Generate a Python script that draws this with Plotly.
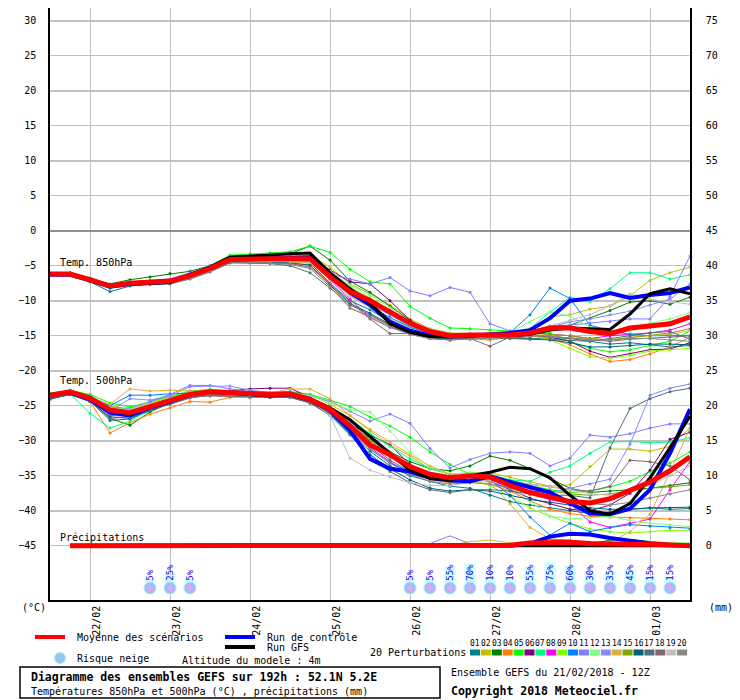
import plotly.graph_objects as go
import pandas as pd

# GEFS run 21/02/2018 12Z, one value every 6h over 192h
times = pd.date_range("2018-02-21 12:00", periods=33, freq="6h")

# ---- 850 hPa (degC)
mean_850 = [-6.2, -6.2, -7.0, -7.9, -7.5, -7.4, -7.2, -6.4, -5.4, -4.1, -4.0, -4.0, -4.0, -4.0, -6.6, -8.7, -10.0,
            -11.6, -13.2, -14.4, -15.0, -14.9, -14.9, -14.9, -14.6, -13.9, -13.9, -14.4, -14.7, -13.9, -13.6, -13.3, -12.3]
ctrl_850 = [-6.3, -6.3, -7.1, -8.0, -7.6, -7.5, -7.3, -6.3, -5.3, -4.0, -4.0, -3.9, -3.9, -3.8, -6.4, -8.8, -10.6,
            -13.0, -14.3, -15.0, -15.1, -15.0, -14.8, -14.6, -14.2, -12.5, -10.0, -9.7, -8.9, -9.6, -9.2, -8.9, -8.1]
gfs_850 = [-6.2, -6.1, -7.0, -7.8, -7.6, -7.5, -7.4, -6.3, -5.2, -3.8, -3.6, -3.4, -3.3, -3.2, -6.0, -8.3, -10.3,
           -13.3, -14.5, -15.1, -15.2, -15.0, -14.9, -15.0, -14.8, -14.2, -13.9, -14.0, -14.1, -11.9, -9.0, -8.3, -9.0]

p01_850 = [-6.0, -6.2, -7.3, -8.7, -7.9, -7.6, -7.4, -6.6, -5.6, -4.3, -4.2, -4.3, -4.4, -4.6, -7.5, -10.0, -11.3,
           -13.0, -14.1, -15.2, -15.5, -15.3, -15.0, -15.2, -15.3, -15.5, -15.4, -15.8, -16.2, -16.0, -16.3, -16.6, -16.4]
p02_850 = [-6.2, -6.1, -6.9, -7.8, -7.4, -7.2, -7.0, -6.2, -5.2, -3.8, -3.7, -3.6, -3.5, -3.5, -5.2, -7.6, -9.0,
           -10.6, -12.6, -14.0, -14.6, -14.7, -14.8, -14.7, -14.3, -12.3, -12.0, -11.2, -10.8, -9.3, -7.1, -6.0, -5.2]
p03_850 = [-6.1, -6.0, -6.8, -7.6, -7.0, -6.6, -6.1, -5.8, -5.0, -3.6, -3.5, -3.4, -3.3, -2.2, -4.2, -7.2, -8.8,
           -10.8, -12.8, -14.4, -14.8, -14.9, -14.8, -14.6, -14.4, -13.6, -13.5, -12.5, -11.4, -10.2, -10.0, -10.5, -9.5]
p04_850 = [-6.2, -6.3, -7.1, -8.0, -7.7, -7.6, -7.5, -6.8, -5.7, -4.5, -4.4, -4.6, -4.8, -4.9, -7.6, -11.1, -12.2,
           -13.5, -14.4, -15.0, -15.3, -15.5, -15.6, -15.2, -15.0, -15.4, -16.3, -17.6, -18.7, -18.4, -17.6, -16.6, -15.2]
p05_850 = [-6.1, -6.0, -6.8, -7.7, -7.3, -7.2, -7.1, -6.2, -5.0, -3.5, -3.3, -3.2, -3.0, -2.2, -3.1, -5.5, -7.3,
           -7.6, -10.8, -12.5, -13.9, -14.0, -14.2, -14.4, -14.5, -14.6, -15.8, -16.8, -17.3, -17.0, -16.4, -15.8, -14.3]
p06_850 = [-6.3, -6.2, -7.0, -7.9, -7.5, -7.3, -7.2, -6.4, -5.3, -4.0, -3.9, -3.8, -3.6, -3.6, -5.6, -7.3, -7.6,
           -10.0, -12.8, -14.6, -15.1, -15.0, -15.2, -15.0, -15.0, -15.2, -15.8, -17.2, -18.1, -17.6, -17.0, -16.9, -16.0]
p07_850 = [-6.2, -6.2, -7.0, -7.8, -7.4, -7.2, -7.1, -6.3, -5.3, -3.9, -3.9, -3.8, -3.7, -3.8, -6.0, -8.5, -10.2,
           -12.0, -13.8, -14.6, -14.8, -14.7, -14.8, -14.9, -14.0, -11.6, -9.5, -10.1, -8.3, -6.0, -6.0, -6.9, -6.3]
p08_850 = [-6.3, -6.3, -7.1, -8.0, -7.6, -7.5, -7.3, -6.6, -5.6, -4.3, -4.2, -4.2, -4.3, -4.4, -7.0, -9.8, -12.4,
           -13.8, -14.6, -15.0, -15.2, -14.9, -14.8, -14.6, -14.5, -14.8, -15.0, -15.4, -15.0, -14.8, -14.6, -14.2, -13.3]
p09_850 = [-6.1, -6.1, -6.9, -7.8, -7.4, -7.3, -7.1, -6.3, -5.3, -3.9, -3.8, -3.7, -3.6, -3.6, -5.8, -8.0, -9.8,
           -11.6, -13.4, -14.6, -15.0, -15.0, -15.1, -15.0, -14.9, -15.6, -16.8, -18.0, -18.2, -17.8, -17.2, -17.0, -16.8]
p10_850 = [-6.2, -6.2, -7.0, -7.9, -7.5, -7.4, -7.2, -6.4, -5.4, -4.1, -4.0, -4.0, -4.0, -4.1, -6.8, -9.2, -10.8,
           -12.4, -13.8, -14.7, -15.0, -14.9, -15.0, -14.6, -12.0, -8.2, -9.7, -13.5, -14.3, -14.8, -15.0, -15.0, -15.0]
p11_850 = [-6.2, -6.1, -6.9, -7.7, -7.3, -7.1, -6.9, -6.0, -5.0, -3.8, -3.8, -3.8, -3.8, -3.9, -6.2, -6.9, -7.6,
           -6.7, -8.6, -9.3, -8.1, -8.8, -13.3, -14.3, -14.3, -13.8, -13.5, -13.2, -13.0, -12.6, -12.6, -9.4, -3.6]
p12_850 = [-6.2, -6.2, -7.0, -7.8, -7.5, -7.3, -7.1, -6.3, -5.3, -4.0, -3.9, -3.9, -3.8, -3.9, -5.8, -7.8, -9.2,
           -11.0, -13.2, -14.4, -14.8, -14.7, -14.7, -14.6, -13.0, -11.6, -12.2, -13.8, -14.2, -14.4, -13.2, -12.6, -11.7]
p13_850 = [-6.2, -6.2, -7.0, -7.8, -7.5, -7.3, -7.1, -6.4, -5.4, -4.1, -4.0, -4.0, -4.1, -4.2, -6.8, -9.0, -10.5,
           -12.0, -13.6, -14.6, -14.9, -14.8, -14.9, -14.7, -14.4, -13.8, -13.0, -12.6, -12.0, -11.5, -10.6, -9.8, -7.6]
p14_850 = [-6.3, -6.3, -7.1, -8.0, -7.6, -7.4, -7.2, -6.6, -5.6, -4.3, -4.3, -4.4, -4.5, -4.6, -6.9, -9.3, -10.9,
           -12.6, -14.0, -14.9, -15.2, -15.1, -15.2, -15.2, -15.0, -15.2, -15.3, -15.4, -15.6, -15.2, -15.0, -14.8, -14.3]
p15_850 = [-6.2, -6.1, -7.0, -7.9, -7.5, -7.3, -7.1, -6.3, -5.2, -3.9, -3.8, -3.7, -3.7, -3.7, -6.0, -8.2, -9.6,
           -11.4, -13.2, -14.5, -14.9, -14.8, -14.7, -14.8, -14.7, -14.8, -15.0, -15.4, -15.6, -15.3, -15.0, -14.6, -14.0]
p16_850 = [-6.3, -6.3, -7.2, -8.2, -7.7, -7.6, -7.4, -6.7, -5.7, -4.4, -4.4, -4.5, -4.6, -4.9, -7.8, -10.4, -11.8,
           -13.4, -14.6, -15.4, -15.6, -15.4, -15.3, -15.4, -15.5, -15.6, -16.0, -16.6, -16.6, -16.4, -16.2, -16.2, -16.3]
p17_850 = [-6.4, -6.4, -7.3, -8.1, -7.8, -7.7, -7.6, -6.9, -5.9, -4.6, -4.6, -4.7, -5.0, -6.0, -8.2, -10.6, -12.0,
           -13.6, -14.8, -15.4, -15.6, -15.2, -15.2, -15.3, -15.4, -15.5, -15.7, -15.8, -15.4, -15.0, -14.6, -14.4, -15.5]
p18_850 = [-6.3, -6.3, -7.2, -8.1, -7.7, -7.6, -7.4, -6.8, -5.8, -4.5, -4.5, -4.6, -4.7, -5.2, -7.6, -10.2, -12.6,
           -14.7, -14.7, -14.8, -15.2, -15.4, -16.5, -15.2, -15.0, -15.1, -15.3, -15.6, -15.8, -15.5, -15.4, -15.2, -15.0]
p19_850 = [-6.2, -6.2, -7.1, -7.9, -7.5, -7.4, -7.3, -6.6, -5.6, -4.3, -4.3, -4.4, -4.4, -4.5, -7.0, -9.4, -11.0,
           -12.8, -14.2, -15.0, -15.2, -15.0, -15.0, -14.8, -14.6, -13.6, -12.8, -12.0, -10.7, -9.0, -9.8, -10.2, -10.5]
p20_850 = [-6.3, -6.3, -7.2, -8.0, -7.7, -7.6, -7.4, -6.8, -5.8, -4.4, -4.5, -4.6, -4.8, -5.4, -8.0, -11.0, -12.4,
           -13.8, -14.8, -15.4, -15.6, -15.5, -15.4, -15.2, -15.0, -15.0, -15.4, -15.6, -15.6, -15.4, -15.4, -15.6, -15.8]

# ---- 500 hPa (degC)
mean_500 = [-23.5, -23.0, -23.9, -25.6, -26.0, -25.1, -24.3, -23.4, -23.0, -23.1, -23.3, -23.4, -23.3, -24.1, -25.5,
            -27.9, -30.6, -32.0, -33.7, -34.8, -35.3, -35.0, -35.2, -36.4, -37.4, -38.0, -38.7, -38.9, -38.3, -37.1,
            -35.9, -34.3, -32.3]
ctrl_500 = [-23.6, -23.1, -24.1, -26.0, -26.4, -25.3, -24.4, -23.4, -23.0, -23.1, -23.3, -23.5, -23.4, -24.2, -25.7,
            -28.5, -32.6, -34.0, -34.4, -35.3, -35.7, -35.8, -35.1, -35.9, -36.6, -37.4, -38.9, -40.4, -40.5, -39.7,
            -37.0, -31.8, -25.5]
gfs_500 = [-23.4, -23.0, -23.8, -25.6, -26.2, -25.2, -24.4, -23.3, -23.0, -23.2, -23.5, -23.6, -23.4, -24.0, -25.3,
           -27.0, -29.4, -31.8, -34.2, -35.4, -35.6, -35.0, -34.5, -33.8, -34.0, -35.3, -37.8, -40.0, -40.5, -39.0,
           -35.3, -31.0, -26.5]

p01_500 = [-24.1, -23.4, -24.3, -27.1, -26.9, -25.7, -24.6, -23.6, -23.2, -23.6, -23.8, -23.8, -23.7, -24.4, -25.9,
           -28.8, -31.5, -33.6, -35.0, -35.8, -36.5, -36.8, -37.8, -38.7, -39.2, -39.6, -40.0, -40.4, -40.2, -39.8,
           -39.6, -39.8, -39.7]
p02_500 = [-23.3, -22.9, -23.6, -25.0, -25.6, -24.6, -23.8, -23.0, -22.8, -22.9, -23.0, -23.1, -23.0, -23.4, -24.8,
           -26.4, -28.6, -30.6, -32.2, -34.0, -34.8, -34.6, -34.6, -35.2, -35.8, -36.5, -36.3, -33.7, -31.2, -31.2,
           -31.5, -30.8, -28.2]
p03_500 = [-23.8, -23.2, -24.2, -26.8, -27.8, -25.9, -24.6, -23.6, -23.1, -23.2, -23.4, -23.5, -23.5, -24.2, -25.6,
           -27.6, -29.8, -31.6, -33.0, -34.0, -34.3, -33.6, -32.2, -32.8, -34.0, -35.4, -36.8, -37.4, -37.2, -37.0,
           -36.8, -36.4, -36.0]
p04_500 = [-23.6, -23.3, -24.4, -28.9, -27.4, -26.2, -25.3, -24.4, -24.5, -23.8, -23.8, -23.7, -23.6, -24.6, -26.0,
           -27.6, -29.4, -31.6, -34.0, -35.6, -36.0, -35.8, -36.2, -37.2, -38.6, -39.8, -40.4, -40.8, -40.9, -41.0,
           -41.1, -41.2, -41.3]
p05_500 = [-23.2, -22.8, -23.4, -24.6, -25.2, -24.4, -23.6, -22.9, -22.7, -22.8, -23.0, -23.1, -23.0, -23.4, -24.2,
           -25.1, -26.6, -27.9, -29.5, -31.6, -33.4, -34.8, -35.0, -35.6, -36.4, -37.0, -37.4, -37.2, -36.6, -35.8,
           -34.4, -33.2, -31.6]
p06_500 = [-23.5, -23.0, -23.9, -25.8, -26.0, -25.2, -24.4, -23.4, -23.0, -22.9, -22.6, -22.5, -22.5, -23.8, -25.2,
           -27.6, -29.2, -30.6, -33.4, -35.0, -35.6, -35.4, -35.8, -37.0, -38.2, -39.0, -39.8, -40.0, -39.2, -37.5,
           -34.2, -29.8, -28.8]
p07_500 = [-23.9, -23.3, -26.1, -28.2, -27.2, -25.5, -24.5, -23.5, -23.1, -23.2, -23.4, -23.4, -23.3, -24.0, -25.2,
           -27.0, -29.0, -30.8, -32.6, -34.0, -34.8, -34.6, -34.8, -35.6, -35.8, -34.5, -33.6, -31.8, -30.2, -30.1,
           -30.3, -30.2, -29.6]
p08_500 = [-23.5, -23.0, -24.0, -26.4, -26.5, -25.3, -24.3, -23.4, -23.0, -23.0, -23.2, -23.3, -23.2, -24.0, -25.5,
           -28.0, -31.0, -33.0, -34.8, -35.4, -35.6, -35.2, -35.4, -36.6, -37.6, -38.4, -39.0, -41.6, -42.4, -41.8,
           -41.2, -37.0, -33.0]
p09_500 = [-23.4, -23.0, -23.8, -25.4, -25.8, -25.0, -24.2, -23.3, -22.9, -23.0, -23.2, -23.3, -23.2, -23.9, -25.4,
           -27.2, -29.6, -31.8, -33.6, -34.8, -35.4, -35.6, -36.4, -38.0, -39.6, -40.8, -41.8, -42.6, -43.0, -43.2,
           -43.0, -42.8, -42.8]
p10_500 = [-23.7, -23.1, -24.0, -25.0, -23.5, -23.5, -23.3, -23.2, -23.1, -23.1, -23.3, -23.4, -23.4, -24.2, -25.6,
           -28.2, -31.2, -33.2, -34.4, -35.0, -35.2, -34.8, -35.6, -37.8, -40.9, -43.5, -41.8, -43.0, -42.4, -42.0,
           -42.2, -42.4, -42.5]
p11_500 = [-23.4, -22.9, -23.6, -25.2, -25.4, -24.4, -23.4, -22.1, -22.1, -22.6, -23.0, -23.1, -23.0, -23.6, -24.4,
           -25.8, -27.2, -26.2, -27.5, -31.1, -33.9, -32.7, -31.8, -31.6, -31.8, -33.6, -32.5, -29.2, -29.5, -29.0,
           -28.2, -27.6, -27.6]
p12_500 = [-23.3, -22.9, -23.7, -25.3, -25.6, -24.8, -24.0, -23.1, -22.8, -22.9, -23.1, -23.2, -23.1, -23.6, -24.6,
           -25.6, -25.9, -28.6, -31.6, -33.8, -34.8, -34.6, -35.0, -36.6, -38.6, -40.8, -41.2, -41.0, -40.8, -41.4,
           -41.8, -42.0, -42.3]
p13_500 = [-23.6, -23.1, -24.0, -25.8, -24.0, -24.2, -23.6, -22.3, -22.2, -22.2, -22.8, -23.1, -23.1, -23.8, -25.2,
           -27.4, -30.0, -32.4, -34.2, -35.2, -35.6, -35.4, -35.8, -36.8, -37.2, -37.4, -36.8, -36.2, -35.5, -30.5,
           -23.5, -22.5, -21.9]
p14_500 = [-23.4, -23.0, -23.8, -24.8, -22.6, -22.9, -22.8, -22.9, -22.9, -23.0, -23.2, -23.2, -22.6, -22.6, -24.0,
           -26.4, -28.4, -30.2, -32.0, -33.6, -34.8, -35.2, -36.0, -39.0, -42.4, -44.0, -44.3, -44.5, -44.5, -43.0,
           -40.5, -34.5, -28.2]
p15_500 = [-23.5, -23.0, -23.9, -25.6, -26.2, -25.2, -24.4, -23.4, -23.0, -23.1, -23.3, -23.4, -23.3, -24.0, -25.4,
           -27.6, -30.0, -32.0, -33.8, -35.0, -35.4, -35.2, -35.6, -36.2, -36.8, -37.2, -37.6, -37.8, -37.6, -37.2,
           -36.8, -36.6, -36.3]
p16_500 = [-24.0, -23.4, -24.4, -26.6, -26.8, -25.6, -24.7, -23.8, -23.4, -23.5, -23.7, -23.8, -23.8, -24.6, -26.2,
           -29.0, -32.0, -34.0, -35.6, -36.8, -37.2, -37.0, -37.2, -37.8, -38.4, -38.8, -39.2, -39.6, -39.8, -39.8,
           -39.6, -39.6, -39.5]
p17_500 = [-24.0, -23.4, -24.4, -26.8, -26.6, -25.6, -24.8, -23.9, -23.5, -23.6, -23.8, -23.8, -23.8, -24.6, -26.4,
           -29.2, -32.4, -34.4, -36.0, -37.0, -37.4, -37.0, -37.0, -37.2, -37.6, -37.8, -37.8, -38.2, -31.0, -25.4,
           -24.0, -23.0, -22.5]
p18_500 = [-23.6, -23.1, -24.0, -25.9, -26.2, -25.3, -24.4, -23.8, -23.6, -23.7, -23.6, -23.6, -23.5, -24.2, -25.6,
           -28.0, -30.6, -32.8, -34.4, -35.2, -35.4, -35.2, -35.4, -35.8, -36.2, -36.6, -37.0, -37.2, -36.5, -32.8,
           -33.0, -33.6, -35.6]
p19_500 = [-23.4, -23.0, -23.9, -25.5, -26.0, -25.1, -24.2, -23.3, -23.0, -23.1, -23.3, -23.3, -23.2, -24.2, -26.4,
           -32.5, -34.2, -35.2, -36.0, -36.4, -36.4, -36.0, -35.6, -35.8, -36.2, -36.6, -37.0, -37.6, -37.8, -37.2,
           -36.4, -35.0, -33.6]
p20_500 = [-23.7, -23.2, -24.1, -26.2, -26.6, -25.5, -24.5, -23.6, -23.3, -23.5, -23.6, -23.6, -23.6, -24.4, -26.0,
           -28.6, -31.2, -33.2, -34.8, -35.8, -36.2, -36.0, -36.2, -36.8, -37.4, -38.0, -38.6, -39.0, -39.2, -38.8,
           -38.2, -37.6, -37.0]

# ---- precipitation (mm / 6h), no value at the first step
rr_mean = [None, 0, 0, 0, 0, 0, 0, 0, 0, 0, 0, 0, 0, 0, 0, 0, 0, 0, 0, 0, 0, 0, 0, 0.05, 0.4, 0.5, 0.5, 0.3, 0.2, 0.2,
           0.2, 0.1, 0]
rr_ctrl = [None, 0, 0, 0, 0, 0.1, 0.1, 0.1, 0, 0, 0, 0, 0, 0, 0, 0, 0, 0, 0, 0, 0, 0, 0, 0, 0.3, 1.3, 1.7, 1.6, 1.1,
           0.7, 0.3, 0.1, 0]
rr_gfs = [None, 0, 0, 0, 0, 0, 0, 0, 0, 0, 0, 0, 0, 0, 0, 0, 0, 0, 0.1, 0.1, 0, 0, 0, 0, 0, 0, 0, 0, 0, 0, 0, 0, 0]
rr_p03 = [None, 0, 0, 0, 0, 0, 0, 0, 0, 0, 0, 0, 0, 0, 0, 0, 0, 0, 0, 0, 0, 0, 0, 0, 0, 0, 0, 0.2, 0.8, 0.9, 0.6,
          0.2, 0]
rr_p04 = [None, 0, 0, 0, 0, 0, 0, 0, 0, 0, 0, 0, 0, 0, 0, 0, 0, 0, 0, 0, 0, 0, 0, 0, 0, 0, 0, 0, 0, 0.2, 0.6, 0.4,
          0.2]
rr_p10 = [None, 0, 0, 0, 0, 0, 0, 0, 0, 0, 0, 0, 0, 0, 0, 0, 0, 0, 0, 0, 0, 0, 0, 0, 0, 0.2, 0.3, 0.3, 0.3, 0.2, 0,
          0, 0]
rr_p11 = [None, 0, 0, 0, 0, 0, 0, 0, 0, 0, 0, 0, 0, 0, 0, 0, 0, 0, 0, 0.3, 1.4, 0.3, 0, 0, 0, 0, 0, 0, 0, 0, 0, 0, 0]
rr_p12 = [None, 0, 0, 0, 0, 0, 0, 0, 0, 0, 0, 0, 0, 0, 0, 0, 0, 0, 0, 0, 0, 0, 0, 0, 0, 0, 0, 0, 0, 0.4, 0.5, 0.5,
          0.4]
rr_p14 = [None, 0, 0, 0, 0, 0, 0, 0, 0, 0, 0, 0, 0, 0, 0, 0, 0, 0, 0, 0, 0, 0.6, 0.8, 0.4, 0, 0, 0, 0, 0, 0, 0, 0, 0]
rr_p20 = [None, 0, 0, 0, 0, 0, 0, 0, 0, 0, 0, 0, 0, 0, 0, 0, 0, 0, 0, 0, 0, 0, 0, 0, 0.6, 0.9, 0.8, 0.4, 0, 0, 0,
          0, 0]

# ---- snow risk (%), at forecast steps
snow_step = [5, 6, 7, 18, 19, 20, 21, 22, 23, 24, 25, 26, 27, 28, 29, 30, 31]
snow_pct = [5, 25, 5, 5, 5, 55, 70, 10, 10, 55, 75, 60, 30, 35, 45, 15, 15]

pert_colors = ["#008080", "#c0c000", "#008000", "#ff8000", "#00ff00", "#800080", "#00ff80", "#ff00ff",
               "#80ff00", "#0080ff", "#8080ff", "#80ff80", "#8888ff", "#e0b040", "#80a800", "#006080",
               "#507078", "#806870", "#c0c0c0", "#888888"]
pert_850 = [p01_850, p02_850, p03_850, p04_850, p05_850, p06_850, p07_850, p08_850, p09_850, p10_850,
            p11_850, p12_850, p13_850, p14_850, p15_850, p16_850, p17_850, p18_850, p19_850, p20_850]
pert_500 = [p01_500, p02_500, p03_500, p04_500, p05_500, p06_500, p07_500, p08_500, p09_500, p10_500,
            p11_500, p12_500, p13_500, p14_500, p15_500, p16_500, p17_500, p18_500, p19_500, p20_500]
pert_rr = {3: rr_p03, 4: rr_p04, 10: rr_p10, 11: rr_p11, 12: rr_p12, 14: rr_p14, 20: rr_p20}

FONT = "DejaVu Sans Mono"
GRID = "#c0c0c0"
# the page sits 8px in from the window corner, so the plot box is 592px tall
Y_RANGE = [-52.76, 31.82]
MM_SHIFT = 45  # right axis (mm) is the left axis + 45


def px(x):
    return (x - 50) / 640


def py(y):
    return (600 - y) / 592


fig = go.Figure()

# precipitation of the members (right axis)
for k, rr in pert_rr.items():
    fig.add_trace(go.Scatter(x=times, y=rr, yaxis="y2", mode="lines", line=dict(color=pert_colors[k - 1], width=1)))
fig.add_trace(go.Scatter(x=times, y=rr_gfs, yaxis="y2", mode="lines", line=dict(color="black", width=3)))
fig.add_trace(go.Scatter(x=times, y=rr_ctrl, yaxis="y2", mode="lines", line=dict(color="#0000ff", width=4)))
fig.add_trace(go.Scatter(x=times, y=rr_mean, yaxis="y2", mode="lines", line=dict(color="#ff0000", width=5)))

# temperatures
for series in (pert_850, pert_500):
    for col, vals in zip(pert_colors, series):
        fig.add_trace(
            go.Scatter(x=times, y=vals, mode="lines+markers", line=dict(color=col, width=1),
                       marker=dict(color=col, size=3))
        )
for ctrl, gfs, mean in ((ctrl_850, gfs_850, mean_850), (ctrl_500, gfs_500, mean_500)):
    fig.add_trace(go.Scatter(x=times, y=ctrl, mode="lines", line=dict(color="#0000ff", width=4)))
    fig.add_trace(go.Scatter(x=times, y=gfs, mode="lines", line=dict(color="black", width=3)))
    fig.add_trace(go.Scatter(x=times, y=mean, mode="lines", line=dict(color="#ff0000", width=5)))

# snow risk: cyan bar sized by the percentage, the value and a flake
snow_times = [times[i] for i in snow_step]
fig.add_trace(
    go.Bar(x=snow_times, y=[(3 + 0.24 * p) / 7 for p in snow_pct], base=-50.37, yaxis="y3",
           width=3.3 * 3600 * 1000, marker=dict(color="#ccffff", line=dict(width=0)))
)
fig.add_trace(
    go.Scatter(x=snow_times, y=[-51.05] * len(snow_times), yaxis="y3", mode="markers",
               marker=dict(symbol="circle", size=12, color="#8cc8f0", line=dict(color="#b8e0ff", width=1)))
)
fig.add_trace(
    go.Scatter(x=snow_times, y=[-51.05] * len(snow_times), yaxis="y3", mode="markers",
               marker=dict(symbol="asterisk-open", size=8, line=dict(color="white", width=1)))
)
for t, p in zip(snow_times, snow_pct):
    fig.add_annotation(x=t, y=-50.37, yref="y3", text=f"{p}%", textangle=-90, showarrow=False,
                       yanchor="bottom", xanchor="center", font=dict(family=FONT, size=9, color="#0000ff"))

# panel labels
for txt, y in (("Temp. 850hPa", 263), ("Temp. 500hPa", 380), ("Précipitations", 537)):
    fig.add_annotation(x=px(58), y=py(y), xref="paper", yref="paper", text=txt, showarrow=False,
                       xanchor="left", yanchor="middle", font=dict(family=FONT, size=10, color="black"))

# units
fig.add_annotation(x=px(20), y=py(607), xref="paper", yref="paper", text="(°C)", showarrow=False,
                   xanchor="left", yanchor="middle", font=dict(family=FONT, size=10, color="black"))
fig.add_annotation(x=px(707), y=py(607), xref="paper", yref="paper", text="(mm)", showarrow=False,
                   xanchor="left", yanchor="middle", font=dict(family=FONT, size=10, color="black"))

# legend
legend_lines = [("#ff0000", 35, 637, "Moyenne des scénarios"),
                ("#0000ff", 225, 637, "Run de contrôle"),
                ("black", 225, 647, "Run GFS")]
for col, x0, y0, txt in legend_lines:
    fig.add_shape(type="line", xref="paper", yref="paper", x0=px(x0), x1=px(x0 + 30), y0=py(y0), y1=py(y0),
                  line=dict(color=col, width=4))
    fig.add_annotation(x=px(x0 + 40), y=py(y0), xref="paper", yref="paper", text=txt, showarrow=False,
                       xanchor="left", yanchor="middle", font=dict(family=FONT, size=10, color="black"))

fig.add_shape(type="circle", xref="paper", yref="paper", x0=px(54.5), x1=px(65.5), y0=py(652.5), y1=py(663.5),
              fillcolor="#8cc8f0", line=dict(color="#b8e0ff", width=1))
fig.add_annotation(x=px(60), y=py(658), xref="paper", yref="paper", text="❄", showarrow=False,
                   font=dict(family="DejaVu Sans", size=8, color="white"))
fig.add_annotation(x=px(75), y=py(659), xref="paper", yref="paper", text="Risque neige", showarrow=False,
                   xanchor="left", yanchor="middle", font=dict(family=FONT, size=10, color="black"))
fig.add_annotation(x=px(180), y=py(660), xref="paper", yref="paper", text="Altitude du modele : 4m",
                   showarrow=False, xanchor="left", yanchor="middle",
                   font=dict(family=FONT, size=10, color="black"))
fig.add_annotation(x=px(368), y=py(652), xref="paper", yref="paper", text="20 Perturbations", showarrow=False,
                   xanchor="left", yanchor="middle", font=dict(family=FONT, size=10, color="black"))
for k, col in enumerate(pert_colors):
    x0 = 470 + 10.9 * k
    fig.add_shape(type="rect", xref="paper", yref="paper", x0=px(x0), x1=px(x0 + 10), y0=py(655.5), y1=py(649.5),
                  fillcolor=col, line=dict(width=0))
    fig.add_annotation(x=px(x0 + 5), y=py(643.5), xref="paper", yref="paper", text=f"{k + 1:02d}",
                       showarrow=False, xanchor="center", yanchor="middle",
                       font=dict(family=FONT, size=8, color="black"))

# title box
fig.add_shape(type="rect", xref="paper", yref="paper", x0=px(20), x1=px(440), y0=py(667), y1=py(698),
              line=dict(color="black", width=1.5), fillcolor="white")
fig.add_annotation(x=px(29), y=py(677), xref="paper", yref="paper",
                   text="<b>Diagramme des ensembles GEFS sur 192h : 52.1N 5.2E</b>", showarrow=False,
                   xanchor="left", yanchor="middle", font=dict(family=FONT, size=11.5, color="black"))
fig.add_annotation(x=px(29), y=py(691), xref="paper", yref="paper",
                   text="Températures 850hPa et 500hPa (°C) , précipitations (mm)", showarrow=False,
                   xanchor="left", yanchor="middle", font=dict(family=FONT, size=10, color="black"))
fig.add_annotation(x=px(449), y=py(672), xref="paper", yref="paper", text="Ensemble GEFS du 21/02/2018 - 12Z",
                   showarrow=False, xanchor="left", yanchor="middle",
                   font=dict(family=FONT, size=10, color="black"))
fig.add_annotation(x=px(449), y=py(691), xref="paper", yref="paper", text="<b>Copyright 2018 Meteociel.fr</b>",
                   showarrow=False, xanchor="left", yanchor="middle",
                   font=dict(family=FONT, size=11.5, color="black"))

fig.update_layout(
    width=732,
    height=692,
    margin=dict(l=42, r=50, t=0, b=100),
    paper_bgcolor="white",
    plot_bgcolor="white",
    showlegend=False,
    font=dict(family=FONT, size=10, color="black"),
    xaxis=dict(
        type="date",
        range=[times[0], times[-1]],
        tick0="2018-02-22",
        dtick=86400000,
        tickformat="%d/%m",
        tickangle=-90,
        ticklabelshift=7,
        ticks="",
        showgrid=True,
        gridcolor=GRID,
        gridwidth=1,
        showline=True,
        linecolor="black",
        linewidth=1.5,
        zeroline=False,
        tickfont=dict(family=FONT, size=10),
    ),
    yaxis=dict(
        range=Y_RANGE,
        tickvals=list(range(-45, 31, 5)),
        showgrid=True,
        gridcolor=GRID,
        gridwidth=1,
        zeroline=False,
        showline=True,
        linecolor="black",
        linewidth=1.5,
        ticks="",
        ticklabelstandoff=10,
        tickfont=dict(family=FONT, size=10),
    ),
    yaxis2=dict(
        range=[Y_RANGE[0] + MM_SHIFT, Y_RANGE[1] + MM_SHIFT],
        overlaying="y",
        side="right",
        tickvals=list(range(0, 76, 5)),
        showgrid=False,
        zeroline=False,
        showline=True,
        linecolor="black",
        linewidth=1.5,
        ticks="",
        ticklabelstandoff=12,
        tickfont=dict(family=FONT, size=10),
    ),
    yaxis3=dict(
        range=Y_RANGE,
        overlaying="y",
        tickvals=[-40, -30, -20, -10, 10, 20, 30],
        showticklabels=False,
        showgrid=True,
        gridcolor=GRID,
        gridwidth=2,
        zeroline=True,
        zerolinecolor="#909090",
        zerolinewidth=2,
        ticks="",
    ),
)

fig.write_html("out.html")
